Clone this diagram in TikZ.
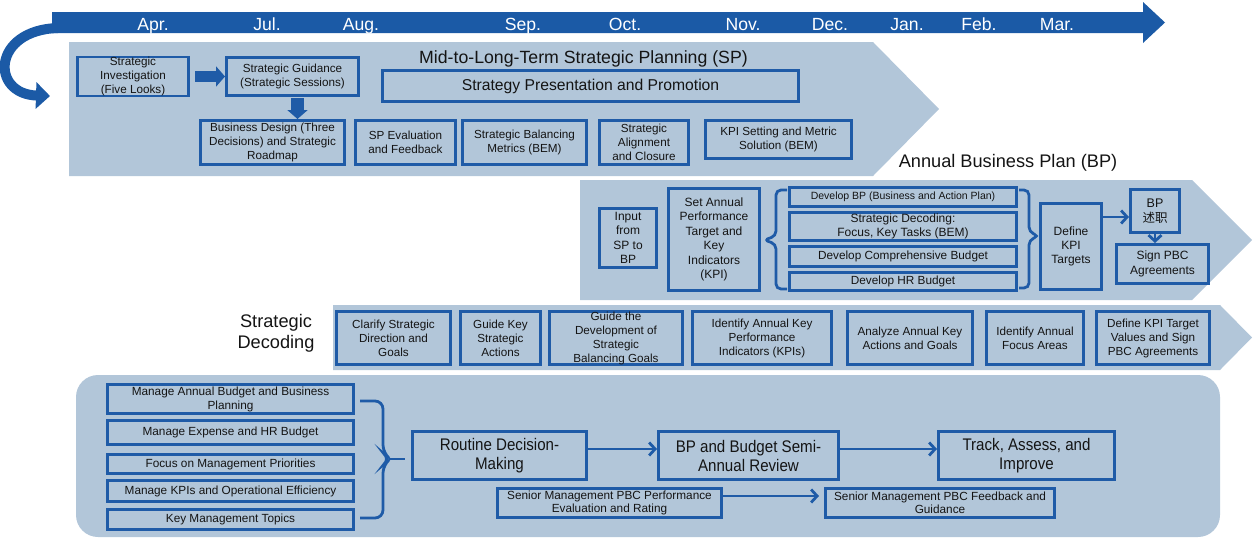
\documentclass[tikz,border=0pt]{standalone}
\usepackage{fontspec}
\setmainfont{Liberation Sans}
\newfontfamily\cjkfont{Noto Sans CJK SC}
\newfontfamily\condfont[FakeStretch=0.9]{Liberation Sans}
\usetikzlibrary{arrows.meta,calc}
\definecolor{panel}{HTML}{B2C6D9}
\definecolor{bdr}{HTML}{1F5BA7}
\definecolor{bar}{HTML}{1B5AA6}
\definecolor{txt}{HTML}{141414}
\newcommand\fs[2]{\fontsize{#1}{#2}\selectfont}
\newcommand\mybox[7]{\node[box,#6,minimum width={#4pt-#2pt-2.8pt},minimum height={#5pt-#3pt-2.8pt}] (#1) at ({(#2+#4)/2},{(#3+#5)/2}) {#7};}
\tikzset{
  box/.style={draw=bdr, line width=2.8pt, align=center, text=txt, inner sep=0pt, font=\fs{11.7}{14}},
  conn/.style={draw=bdr, line width=2.8pt, -{Straight Barb[length=6pt,width=13pt]}},
  blockarrow/.style={draw=bdr, line width=11pt, -{Triangle[length=9pt,width=20pt]}},
  brc/.style={draw=bdr, line width=2.8pt, rounded corners=5pt},
  month/.style={text=white, font=\fs{17.6}{20}, anchor=base, inner sep=0pt},
  ttl/.style={text=txt, anchor=base, inner sep=0pt},
}
\begin{document}
\begin{tikzpicture}[x=1pt,y=-1pt]
\useasboundingbox (0,0) rectangle (1255,541);
% curved arrow and timeline
\draw[bar, line width=10pt, -{Triangle[length=14pt,width=26pt]}] (58,28) .. controls (-8,30) and (-10,94) .. (50,96);
\fill[bar] (52,12) -- (1143,12) -- (1143,2) -- (1165,22.5) -- (1143,43) -- (1143,33) -- (52,33) -- cycle;
\node[month] (mApr) at (153,30) {Apr.};
\node[month] (mJul) at (267,30) {Jul.};
\node[month] (mAug) at (361,30) {Aug.};
\node[month] (mSep) at (523,30) {Sep.};
\node[month] (mOct) at (625,30) {Oct.};
\node[month] (mNov) at (743,30) {Nov.};
\node[month] (mDec) at (830,30) {Dec.};
\node[month] (mJan) at (907,30) {Jan.};
\node[month] (mFeb) at (979,30) {Feb.};
\node[month] (mMar) at (1057,30) {Mar.};
% panels
\fill[panel] (69,42) -- (873,42) -- (939,109) -- (873,176) -- (69,176) -- cycle;
\fill[panel] (580,180) -- (1192,180) -- (1252,240) -- (1192,300) -- (580,300) -- cycle;
\fill[panel] (333,305) -- (1220,305) -- (1252,337.5) -- (1220,370) -- (333,370) -- cycle;
\fill[panel, rounded corners=22pt] (76,375) rectangle (1220,537);
% titles
\node[ttl, font=\fs{17.7}{21}] (sptitle) at (583.5,63) {Mid-to-Long-Term Strategic Planning (SP)};
\node[ttl, font=\fs{18.2}{21}] (bptitle) at (1008,167) {Annual Business Plan (BP)};
\node[text=txt, font=\fs{18.2}{21}, align=center, inner sep=0pt] (sdtitle) at (276,332.8) {Strategic\\Decoding};
% SP boxes
\mybox{si}{76}{56}{190}{97}{}{Strategic\\Investigation\\(Five Looks)}
\mybox{sg}{225}{56}{360}{97}{}{Strategic Guidance\\(Strategic Sessions)}
\mybox{spp}{381}{69}{800}{103}{font=\fs{15.7}{18}}{Strategy Presentation and Promotion}
\mybox{bd}{199}{119}{346}{166}{}{Business Design (Three\\Decisions) and Strategic\\Roadmap}
\mybox{spe}{354}{119}{457}{166}{}{SP Evaluation\\and Feedback}
\mybox{sbm}{461}{119}{588}{166}{}{Strategic Balancing\\Metrics (BEM)}
\mybox{sac}{598}{119}{690}{166}{}{Strategic\\Alignment\\and Closure}
\mybox{kpi}{704}{119}{853}{160}{}{KPI Setting and Metric\\Solution (BEM)}
\draw[blockarrow] ($(si.east)+(5,0)$) -- (sg.west);
\coordinate (dA) at ($(sg.south)+(5,1)$);
\draw[blockarrow, line width=13pt] (dA) -- (dA |- bd.north);
% BP boxes
\mybox{inp}{598}{207}{658}{269}{font=\fs{12}{14.5}}{Input\\from\\SP to\\BP}
\mybox{sat}{667}{187}{761}{292}{font=\fs{12}{14.5}}{Set Annual\\Performance\\Target and\\Key\\Indicators\\(KPI)}
\mybox{dbp}{788}{186}{1018}{208}{font=\fs{10.5}{12}}{Develop BP (Business and Action Plan)}
\mybox{dsd}{788}{211}{1018}{242}{font=\fs{12}{14}}{Strategic Decoding:\\Focus, Key Tasks (BEM)}
\mybox{dcb}{788}{245}{1018}{268}{font=\fs{11.8}{14}}{Develop Comprehensive Budget}
\mybox{dhr}{788}{271}{1018}{292}{font=\fs{11.8}{14}}{Develop HR Budget}
\mybox{dkt}{1039}{202}{1103}{291}{font=\fs{12}{14}}{Define\\KPI\\Targets}
\mybox{bps}{1129}{188}{1181}{234}{font=\fs{12.5}{15}}{BP\\{\cjkfont 述职}}
\mybox{spbc}{1115}{243}{1210}{285}{font=\fs{12}{14.5}}{Sign PBC\\Agreements}
\draw[brc] (787,190) -- (776,190) -- (776,236) -- (764,240) -- (776,244) -- (776,289) -- (787,289);
\draw[brc] (1019,190) -- (1029,190) -- (1029,232) -- (1039,236) -- (1029,240) -- (1029,288) -- (1019,288);
\draw[conn] ($(dkt.north east)+(-1,15)$) -- ($(bps.west)+(0,6)$);
\draw[conn] (bps.south) -- (bps.south |- spbc.north);
% Strategic decoding boxes
\mybox{c1}{335}{310}{452}{366}{}{Clarify Strategic\\Direction and\\Goals}
\mybox{c2}{459}{310}{542}{366}{}{Guide Key\\Strategic\\Actions}
\mybox{c3}{548}{310}{684}{366}{}{Guide the\\Development of\\Strategic\\Balancing Goals}
\mybox{c4}{691}{310}{833}{366}{}{Identify Annual Key\\Performance\\Indicators (KPIs)}
\mybox{c5}{846}{310}{974}{366}{}{Analyze Annual Key\\Actions and Goals}
\mybox{c6}{985}{310}{1085}{366}{}{Identify Annual\\Focus Areas}
\mybox{c7}{1095}{310}{1211}{366}{}{Define KPI Target\\Values and Sign\\PBC Agreements}
% bottom panel
\mybox{m1}{106}{383}{355}{415}{font=\fs{11.8}{14}}{Manage Annual Budget and Business\\Planning}
\mybox{m2}{106}{419}{355}{446}{font=\fs{11.8}{14}}{Manage Expense and HR Budget}
\mybox{m3}{106}{453}{355}{475}{font=\fs{11.8}{14}}{Focus on Management Priorities}
\mybox{m4}{106}{479}{355}{503}{font=\fs{11.8}{14}}{Manage KPIs and Operational Efficiency}
\mybox{m5}{106}{508}{355}{531}{font=\fs{11.8}{14}}{Key Management Topics}
\mybox{rt}{411}{430}{588}{481}{font=\condfont\fs{16.8}{19}}{Routine Decision-\\Making}
\mybox{sa}{657}{430}{840}{481}{font=\condfont\fs{16.8}{19}}{BP and Budget Semi-\\Annual Review}
\mybox{ta}{937}{430}{1116}{481}{font=\condfont\fs{16.8}{19}}{Track, Assess, and\\Improve}
\mybox{s1}{496}{487}{723}{519}{font=\fs{11.8}{13.5}}{Senior Management PBC Performance\\Evaluation and Rating}
\mybox{s2}{824}{487}{1056}{519}{font=\fs{11.8}{13.5}}{Senior Management PBC Feedback and\\Guidance}
\draw[brc, rounded corners=8pt] (360,401) -| (383,453) -- (390,459) -- (383,465) |- (360,518);
\draw[draw=bdr, line width=2.8pt] (389,459) -- (405,459);
\draw[conn] ($(rt.east)+(0,-6.5)$) -- ($(sa.west)+(0,-6.5)$);
\draw[conn] ($(sa.east)+(0,-6.5)$) -- ($(ta.west)+(0,-6.5)$);
\draw[conn, shorten >=5pt] ($(s1.east)+(0,-7)$) -- ($(s2.west)+(0,-7)$);
\end{tikzpicture}
\end{document}
